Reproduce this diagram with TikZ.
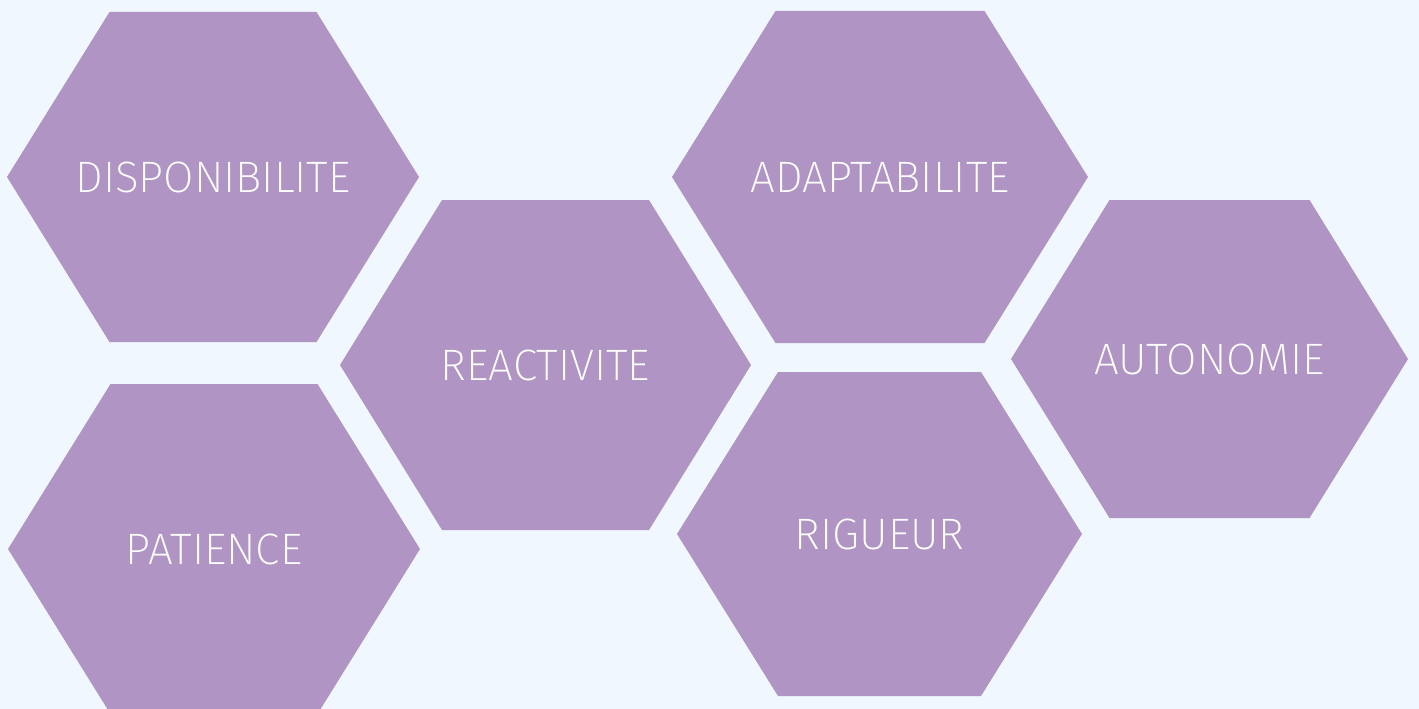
\documentclass[tikz,border=0pt]{standalone}
\usepackage{fontspec}
\newfontfamily\hexfont{Fira Sans ExtraLight}
\usetikzlibrary{calc}
\definecolor{hexfill}{RGB}{176,148,196}
\definecolor{bgblue}{RGB}{240,247,254}
\tikzset{hexlabel/.style={text=white,font=\hexfont\fontsize{44}{44}\selectfont}}

\begin{document}
\begin{tikzpicture}[x=1pt,y=-1pt]

\fill[bgblue] (0,0) rectangle (1419,709);
\useasboundingbox (0,0) rectangle (1419,709);

\def\hexlist{dispo/213/177/206/103.5/165/DISPONIBILITE,
  pat/214/549/206/103.5/165/PATIENCE,
  react/545.5/365/205.5/103.5/165/REACTIVITE,
  adapt/880/177/208/104.5/166/ADAPTABILITE,
  rig/879.5/534/202.5/101.5/162/RIGUEUR,
  auto/1209.5/359/198.5/100/159/AUTONOMIE}
\foreach \n/\cx/\cy/\w/\a/\h/\txt in \hexlist {
  \fill[hexfill] (\cx-\w,\cy) -- (\cx-\a,\cy-\h) -- (\cx+\a,\cy-\h)
    -- (\cx+\w,\cy) -- (\cx+\a,\cy+\h) -- (\cx-\a,\cy+\h) -- cycle;
  \node[hexlabel] (\n) at (\cx,\cy) {\txt};
}

\end{tikzpicture}
\end{document}
